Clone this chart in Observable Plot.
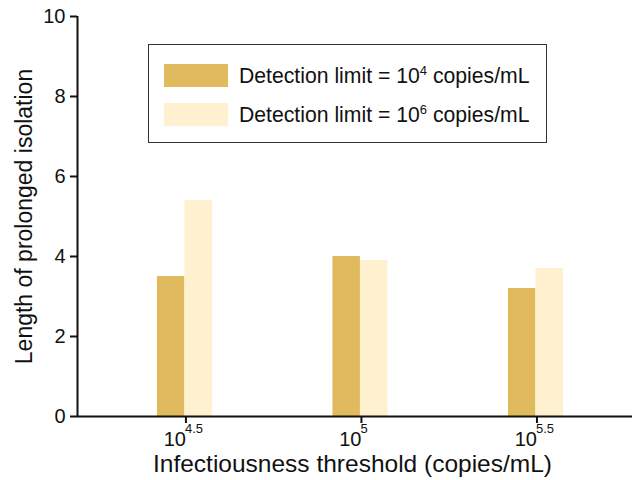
<!DOCTYPE html>
<html lang="en">
<head>
<meta charset="utf-8">
<title>Prolonged isolation</title>
<script src="https://cdn.jsdelivr.net/npm/d3@7"></script>
<script src="https://cdn.jsdelivr.net/npm/@observablehq/plot@0.6"></script>
<style>
  body {
    margin: 0;
    overflow: hidden;
    font-family: 'Liberation Sans', Arial, sans-serif;
  }
  #wrap {
    position: relative;
    width: 632px;
    height: 480px;
  }
  #legend {
    position: absolute;
    left: 148px;
    top: 44px;
    width: 397px;
    height: 97px;
    border: 1px solid #333;
    background: white;
  }
  .row {
    position: absolute;
    left: 15px;
    height: 23px;
    display: flex;
    align-items: center;
    font-size: 21.2px;
    color: #111;
    white-space: nowrap;
  }
  .swatch {
    width: 64px;
    height: 23px;
    margin-right: 11px;
  }
  sup { font-size: 13px; vertical-align: 8px; }
</style>
</head>
<body>
<div id="wrap">
  <div id="graphic"></div>
  <div id="legend"></div>
</div>

<script>
  // infectiousness threshold, as log10 copies/mL
  const thresholds = [4.5, 5, 5.5];
  const exponentLabels = ["4.5", "5", "5.5"];
  // length of prolonged isolation for each detection limit
  const limit4 = [3.5, 4.0, 3.2];
  const limit6 = [5.4, 3.9, 3.7];
  const seriesNames = ["Detection limit = 10<sup>4</sup> copies/mL", "Detection limit = 10<sup>6</sup> copies/mL"];
  const colors = ["#E2BA5E", "#FFF1CF"];
  const yTicks = [0, 2, 4, 6, 8, 10];
  const xTitle = "Infectiousness threshold (copies/mL)";
  const yTitle = "Length of prolonged isolation";

  const data4 = thresholds.map((t, i) => ({t, v: limit4[i]}));
  const data6 = thresholds.map((t, i) => ({t, v: limit6[i]}));
  const expData = thresholds.map((t, i) => ({t, label: exponentLabels[i]}));

  const chart = Plot.plot({
    width: 632, height: 480,
    marginLeft: 77, marginRight: 0, marginTop: 16, marginBottom: 64,
    style: {fontSize: "20px", fontFamily: "'Liberation Sans', Arial, sans-serif", color: "#111"},
    x: {domain: [4.194, 5.775]},
    y: {domain: [0, 10]},
    marks: [
      Plot.rectY(data4, {x1: "t", x2: "t", y: "v", fill: colors[0], insetLeft: -27.5}),
      Plot.rectY(data6, {x1: "t", x2: "t", y: "v", fill: colors[1], insetRight: -27.5}),
      Plot.axisY({ticks: yTicks, tickSize: 7, tickPadding: 5, strokeWidth: 2, label: null}),
      Plot.axisX({ticks: thresholds, tickSize: 7, tickPadding: 8, strokeWidth: 2, tickFormat: () => "10", textAnchor: "end", dx: 1, label: null}),
      Plot.text(expData, {x: "t", text: "label", frameAnchor: "bottom", dy: 16, textAnchor: "start", fontSize: 13}),
      Plot.text([xTitle], {text: d => d, frameAnchor: "bottom", textAnchor: "middle", dx: -2.5, dy: 48, fontSize: 24.5, lineAnchor: "middle"}),
      Plot.text([yTitle], {text: d => d, frameAnchor: "left", textAnchor: "middle", rotate: -90, dx: -53, fontSize: 23, lineAnchor: "middle"}),
      Plot.ruleY([0], {strokeWidth: 2}),
      Plot.ruleX([4.194], {strokeWidth: 2})
    ]
  });
  document.getElementById("graphic").appendChild(chart);

  const legend = document.getElementById("legend");
  seriesNames.forEach((name, i) => {
    const row = document.createElement("div");
    row.className = "row";
    row.style.top = (19 + i * 39) + "px";
    row.innerHTML = `<div class="swatch" style="background:${colors[i]}"></div><span>${name}</span>`;
    legend.appendChild(row);
  });
</script>
</body>
</html>
